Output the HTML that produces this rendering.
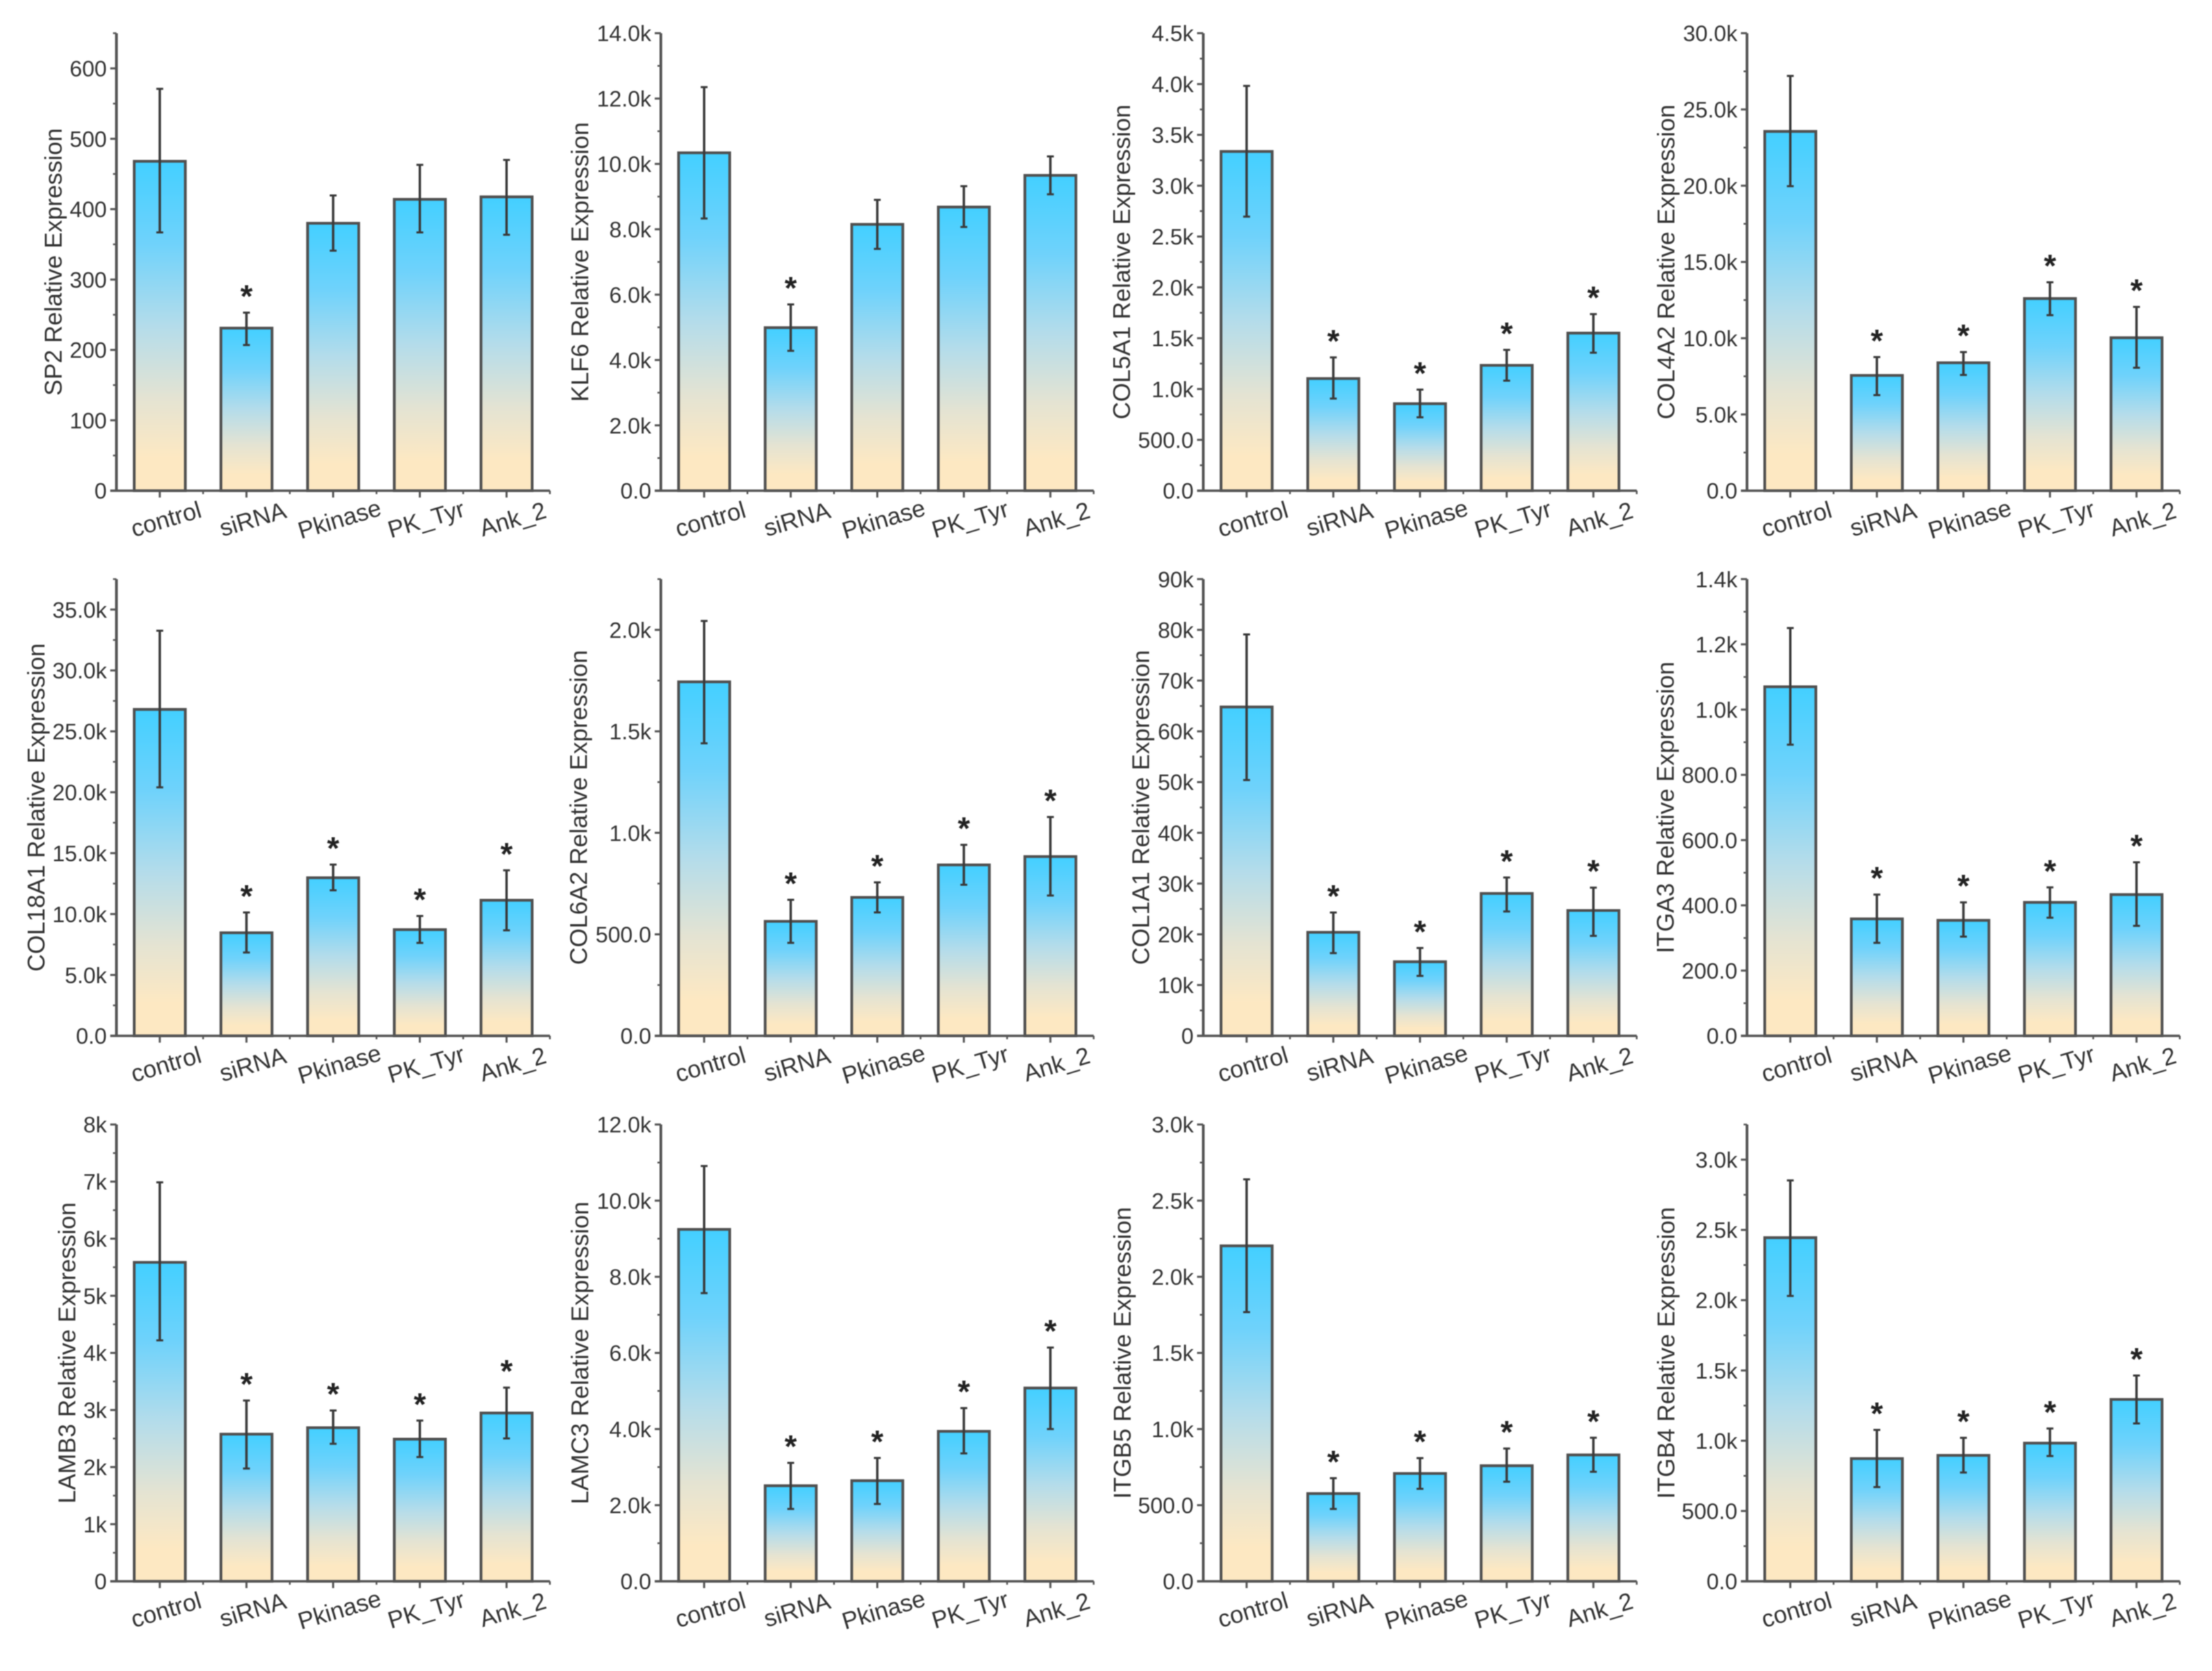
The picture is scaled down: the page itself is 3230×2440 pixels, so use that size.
<!DOCTYPE html>
<html lang="en">
<head>
<meta charset="utf-8">
<title>Relative expression bar charts</title>
<style>
html,body{margin:0;padding:0;background:#fff;}
svg{display:block;filter:blur(0.8px);}
text{font-family:"Liberation Sans",Arial,sans-serif;fill:#333;}
</style>
</head>
<body>
<svg id="figure" xmlns="http://www.w3.org/2000/svg" width="3230" height="2440" viewBox="0 0 3230 2440">
<defs>
<linearGradient id="barFill" x1="0" y1="0" x2="0" y2="1">
<stop offset="0" stop-color="#43cfff"/>
<stop offset="0.25" stop-color="#6fd2fb"/>
<stop offset="0.5" stop-color="#b4dcea"/>
<stop offset="0.72" stop-color="#e4e3d2"/>
<stop offset="0.9" stop-color="#fde8c2"/>
<stop offset="1" stop-color="#fde8c2"/>
</linearGradient>
</defs>
</svg>
<script>
const categories = ['control', 'siRNA', 'Pkinase', 'PK_Tyr', 'Ank_2'];

const sp2Mean = [468, 231, 380, 414, 417.5];
const sp2High = [571, 253, 419.5, 463, 470];
const sp2Low = [367, 207, 341, 367, 363.6];
const sp2Stars = [0, 1, 0, 0, 0];
const sp2Ticks = [0, 100, 200, 300, 400, 500, 600];
const sp2Labels = ['0', '100', '200', '300', '400', '500', '600'];

const klf6Mean = [10340, 4990, 8150, 8680, 9650];
const klf6High = [12350, 5700, 8900, 9320, 10230];
const klf6Low = [8330, 4280, 7400, 8070, 9070];
const klf6Stars = [0, 1, 0, 0, 0];
const klf6Ticks = [0, 2000, 4000, 6000, 8000, 10000, 12000, 14000];
const klf6Labels = ['0.0', '2.0k', '4.0k', '6.0k', '8.0k', '10.0k', '12.0k', '14.0k'];

const col5a1Mean = [3337, 1103, 856, 1233, 1550];
const col5a1High = [3982, 1311, 994, 1385, 1737];
const col5a1Low = [2696, 906, 722, 1082, 1357];
const col5a1Stars = [0, 1, 1, 1, 1];
const col5a1Ticks = [0, 500, 1000, 1500, 2000, 2500, 3000, 3500, 4000, 4500];
const col5a1Labels = ['0.0', '500.0', '1.0k', '1.5k', '2.0k', '2.5k', '3.0k', '3.5k', '4.0k', '4.5k'];

const col4a2Mean = [23560, 7560, 8390, 12600, 10030];
const col4a2High = [27200, 8760, 9090, 13670, 12050];
const col4a2Low = [19970, 6270, 7590, 11510, 8060];
const col4a2Stars = [0, 1, 1, 1, 1];
const col4a2Ticks = [0, 5000, 10000, 15000, 20000, 25000, 30000];
const col4a2Labels = ['0.0', '5.0k', '10.0k', '15.0k', '20.0k', '25.0k', '30.0k'];

const col18a1Mean = [26800, 8460, 12980, 8720, 11130];
const col18a1High = [33260, 10130, 14060, 9840, 13590];
const col18a1Low = [20400, 6840, 11950, 7630, 8660];
const col18a1Stars = [0, 1, 1, 1, 1];
const col18a1Ticks = [0, 5000, 10000, 15000, 20000, 25000, 30000, 35000];
const col18a1Labels = ['0.0', '5.0k', '10.0k', '15.0k', '20.0k', '25.0k', '30.0k', '35.0k'];

const col6a2Mean = [1744, 564, 682, 842, 883];
const col6a2High = [2044, 670, 756, 941, 1078];
const col6a2Low = [1441, 458, 608, 744, 691];
const col6a2Stars = [0, 1, 1, 1, 1];
const col6a2Ticks = [0, 500, 1000, 1500, 2000];
const col6a2Labels = ['0.0', '500.0', '1.0k', '1.5k', '2.0k'];

const col1a1Mean = [64800, 20400, 14600, 28050, 24700];
const col1a1High = [79100, 24300, 17300, 31200, 29200];
const col1a1Low = [50400, 16300, 11800, 24500, 19700];
const col1a1Stars = [0, 1, 1, 1, 1];
const col1a1Ticks = [0, 10000, 20000, 30000, 40000, 50000, 60000, 70000, 80000, 90000];
const col1a1Labels = ['0', '10k', '20k', '30k', '40k', '50k', '60k', '70k', '80k', '90k'];

const itga3Mean = [1070, 358.5, 354, 409, 433];
const itga3High = [1250, 433, 409, 455, 532];
const itga3Low = [892.5, 285, 304, 362, 337];
const itga3Stars = [0, 1, 1, 1, 1];
const itga3Ticks = [0, 200, 400, 600, 800, 1000, 1200, 1400];
const itga3Labels = ['0.0', '200.0', '400.0', '600.0', '800.0', '1.0k', '1.2k', '1.4k'];

const lamb3Mean = [5586, 2577, 2690, 2489, 2947];
const lamb3High = [6987, 3166, 2991, 2815, 3392];
const lamb3Low = [4220, 1975, 2408, 2176, 2502];
const lamb3Stars = [0, 1, 1, 1, 1];
const lamb3Ticks = [0, 1000, 2000, 3000, 4000, 5000, 6000, 7000, 8000];
const lamb3Labels = ['0', '1k', '2k', '3k', '4k', '5k', '6k', '7k', '8k'];

const lamc3Mean = [9245, 2511, 2643, 3940, 5078];
const lamc3High = [10910, 3110, 3240, 4550, 6140];
const lamc3Low = [7570, 1900, 2030, 3360, 4000];
const lamc3Stars = [0, 1, 1, 1, 1];
const lamc3Ticks = [0, 2000, 4000, 6000, 8000, 10000, 12000];
const lamc3Labels = ['0.0', '2.0k', '4.0k', '6.0k', '8.0k', '10.0k', '12.0k'];

const itgb5Mean = [2203, 576, 708, 759, 830];
const itgb5High = [2640, 677, 809, 872, 943];
const itgb5Low = [1768, 475, 607, 654, 719];
const itgb5Stars = [0, 1, 1, 1, 1];
const itgb5Ticks = [0, 500, 1000, 1500, 2000, 2500, 3000];
const itgb5Labels = ['0.0', '500.0', '1.0k', '1.5k', '2.0k', '2.5k', '3.0k'];

const itgb4Mean = [2445, 873, 896, 983, 1294];
const itgb4High = [2852, 1077, 1021, 1087, 1464];
const itgb4Low = [2030, 670, 774, 891, 1123];
const itgb4Stars = [0, 1, 1, 1, 1];
const itgb4Ticks = [0, 500, 1000, 1500, 2000, 2500, 3000];
const itgb4Labels = ['0.0', '500.0', '1.0k', '1.5k', '2.0k', '2.5k', '3.0k'];

const panels = [
  {gene:'SP2', mean:sp2Mean, high:sp2High, low:sp2Low, stars:sp2Stars, ticks:sp2Ticks, labels:sp2Labels, yMax:650, left:170, right:803, top:48.5, base:716.5, titleX:77},
  {gene:'KLF6', mean:klf6Mean, high:klf6High, low:klf6Low, stars:klf6Stars, ticks:klf6Ticks, labels:klf6Labels, yMax:14000, left:965, right:1597, top:48.5, base:716.5, titleX:846},
  {gene:'COL5A1', mean:col5a1Mean, high:col5a1High, low:col5a1Low, stars:col5a1Stars, ticks:col5a1Ticks, labels:col5a1Labels, yMax:4500, left:1757, right:2390, top:48.5, base:716.5, titleX:1637},
  {gene:'COL4A2', mean:col4a2Mean, high:col4a2High, low:col4a2Low, stars:col4a2Stars, ticks:col4a2Ticks, labels:col4a2Labels, yMax:30000, left:2551, right:3183, top:48.5, base:716.5, titleX:2432},
  {gene:'COL18A1', mean:col18a1Mean, high:col18a1High, low:col18a1Low, stars:col18a1Stars, ticks:col18a1Ticks, labels:col18a1Labels, yMax:37500, left:170, right:803, top:845.6, base:1512.5, titleX:52},
  {gene:'COL6A2', mean:col6a2Mean, high:col6a2High, low:col6a2Low, stars:col6a2Stars, ticks:col6a2Ticks, labels:col6a2Labels, yMax:2250, left:965, right:1597, top:845.6, base:1512.5, titleX:844},
  {gene:'COL1A1', mean:col1a1Mean, high:col1a1High, low:col1a1Low, stars:col1a1Stars, ticks:col1a1Ticks, labels:col1a1Labels, yMax:90000, left:1757, right:2390, top:845.6, base:1512.5, titleX:1665},
  {gene:'ITGA3', mean:itga3Mean, high:itga3High, low:itga3Low, stars:itga3Stars, ticks:itga3Ticks, labels:itga3Labels, yMax:1400, left:2551, right:3183, top:845.6, base:1512.5, titleX:2431},
  {gene:'LAMB3', mean:lamb3Mean, high:lamb3High, low:lamb3Low, stars:lamb3Stars, ticks:lamb3Ticks, labels:lamb3Labels, yMax:8000, left:170, right:803, top:1642, base:2309, titleX:97},
  {gene:'LAMC3', mean:lamc3Mean, high:lamc3High, low:lamc3Low, stars:lamc3Stars, ticks:lamc3Ticks, labels:lamc3Labels, yMax:12000, left:965, right:1597, top:1642, base:2309, titleX:846},
  {gene:'ITGB5', mean:itgb5Mean, high:itgb5High, low:itgb5Low, stars:itgb5Stars, ticks:itgb5Ticks, labels:itgb5Labels, yMax:3000, left:1757, right:2390, top:1642, base:2309, titleX:1638},
  {gene:'ITGB4', mean:itgb4Mean, high:itgb4High, low:itgb4Low, stars:itgb4Stars, ticks:itgb4Ticks, labels:itgb4Labels, yMax:3250, left:2551, right:3183, top:1642, base:2309, titleX:2432}
];

const NS = 'http://www.w3.org/2000/svg';
const AXIS = '#555';
const figure = document.getElementById('figure');

function svgEl(tag, attrs, parent) {
  const el = document.createElementNS(NS, tag);
  for (const k in attrs) el.setAttribute(k, attrs[k]);
  parent.appendChild(el);
  return el;
}

function drawPanel(p) {
  const y = v => p.base - (v / p.yMax) * (p.base - p.top);
  const band = (p.right - p.left) / categories.length;
  const x = i => p.left + (i + 0.5) * band;
  const barWidth = band * 0.59;

  const g = svgEl('g', {}, figure);
  
  

  p.mean.forEach((m, i) => {
    const bar = svgEl('rect', {x: x(i) - barWidth / 2, y: y(m), width: barWidth, height: p.base - y(m), fill: 'url(#barFill)', stroke: '#505050', 'stroke-width': 4}, g);
    
    
  });

  p.mean.forEach((m, i) => {
    const stem = svgEl('line', {x1: x(i), x2: x(i), y1: y(p.high[i]), y2: y(p.low[i]), stroke: '#3a3a3a', 'stroke-width': 3.5}, g);
    
    
    const capTop = svgEl('line', {x1: x(i) - 5, x2: x(i) + 5, y1: y(p.high[i]), y2: y(p.high[i]), stroke: '#3a3a3a', 'stroke-width': 3}, g);
    
    
    const capLow = svgEl('line', {x1: x(i) - 5, x2: x(i) + 5, y1: y(p.low[i]), y2: y(p.low[i]), stroke: '#3a3a3a', 'stroke-width': 3}, g);
    
    
    if (p.stars[i]) {
      const star = svgEl('text', {x: x(i), y: y(p.high[i]) - 8, 'text-anchor': 'middle', 'font-size': 46, 'font-weight': 'bold', style: 'fill:#222'}, g);
      star.textContent = '*';
      
      
    }
  });

  const yAxis = svgEl('line', {x1: p.left, x2: p.left, y1: p.top, y2: p.base + 1.5, stroke: AXIS, 'stroke-width': 4}, g);
  
  
  const xAxis = svgEl('line', {x1: p.left - 9, x2: p.right, y1: p.base, y2: p.base, stroke: AXIS, 'stroke-width': 3.5}, g);
  
  

  p.ticks.forEach((t, i) => {
    if (t > 0) {
      const tick = svgEl('line', {x1: p.left - 9, x2: p.left, y1: y(t), y2: y(t), stroke: AXIS, 'stroke-width': 3}, g);
      
      
    }
    const label = svgEl('text', {x: p.left - 14, y: y(t), dy: '0.36em', 'text-anchor': 'end', 'font-size': 32.5}, g);
    label.textContent = p.labels[i];
    
    
  });

  const step = p.ticks[1] - p.ticks[0];
  for (let k = 0; (k + 0.5) * step <= p.yMax + 1e-6; k++) {
    const mv = (k + 0.5) * step;
    const minor = svgEl('line', {x1: p.left - 5, x2: p.left, y1: y(mv), y2: y(mv), stroke: AXIS, 'stroke-width': 2.5}, g);
    
    
  }

  categories.forEach((c, i) => {
    const tick = svgEl('line', {x1: x(i), x2: x(i), y1: p.base, y2: p.base + 10, stroke: AXIS, 'stroke-width': 3}, g);
    
    
    const minor = svgEl('line', {x1: p.left + (i + 1) * band, x2: p.left + (i + 1) * band, y1: p.base, y2: p.base + 5, stroke: AXIS, 'stroke-width': 2.5}, g);
    
    
    const lx = x(i) + 9;
    const ly = p.base + 41;
    const label = svgEl('text', {x: lx, y: ly, dy: '0.36em', 'text-anchor': 'middle', 'font-size': 35, transform: 'rotate(-16.5 ' + lx + ' ' + ly + ')'}, g);
    label.textContent = c;
    
    
  });

  const cy = (p.top + p.base) / 2;
  const title = svgEl('text', {x: p.titleX, y: cy, dy: '0.36em', 'text-anchor': 'middle', 'font-size': 35.5, transform: 'rotate(-90 ' + p.titleX + ' ' + cy + ')'}, g);
  title.textContent = p.gene + ' Relative Expression';
  
  
}

panels.forEach(drawPanel);
</script>
</body>
</html>
